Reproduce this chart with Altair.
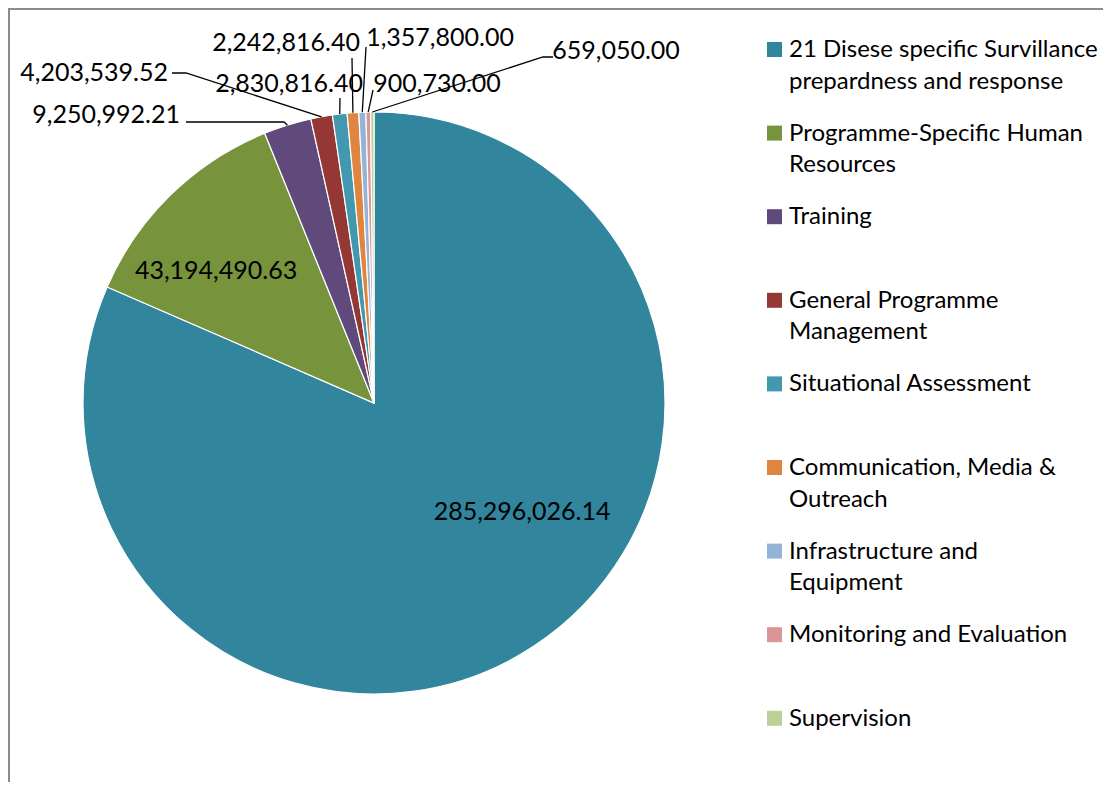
import math
import altair as alt
import pandas as pd

# ---------------- data ----------------
categories = [
    "21 Disese specific Survillance prepardness and response",
    "Programme-Specific Human Resources",
    " Training",
    "General Programme Management",
    "Situational Assessment",
    "Communication, Media & Outreach",
    "Infrastructure and Equipment",
    "Monitoring and Evaluation",
    "Supervision",
]
legend_lines = [
    ["21 Disese specific Survillance", "prepardness and response"],
    ["Programme-Specific Human", "Resources"],
    ["\u2005Training"],
    ["General Programme", "Management"],
    ["Situational Assessment"],
    ["Communication, Media &", "Outreach"],
    ["Infrastructure and", "Equipment"],
    ["Monitoring and Evaluation"],
    ["Supervision"],
]
values = [285296026.14, 43194490.63, 9250992.21, 4203539.52, 2830816.40,
          2242816.40, 1357800.00, 900730.00, 659050.00]
colors = ["#31859C", "#77933C", "#604A7B", "#953735", "#4198AF",
          "#E0853F", "#95B3D7", "#D99694", "#BBD195"]

# ---------------- layout (page pixel coordinates) ----------------
W, H = 1095, 774
OX, OY = 8, 8
CX, CY, R = 374, 403, 291
FONT = "Lato"
FS_LAB = 25
FS_LEG = 24
# label anchor (x, y, align) and leader-line start points
label_layout = [
    (522, 512, "center", []),
    (216, 271, "center", []),
    (180, 115, "right", [(186, 122), (284, 122)]),
    (168, 73, "right", [(172, 73), (186, 73)]),
    (289, 84, "center", [(340, 98)]),
    (286, 43, "center", [(352, 58)]),
    (440, 38, "center", [(366, 47)]),
    (437, 84, "center", [(373, 90)]),
    (616, 51, "center", [(553, 57), (543, 57)]),
]
LEG_SW_X, LEG_TX_X, LEG_Y0, LEG_STEP, LEG_LH = 774.5, 789, 50, 83.6, 31.5

xs = alt.Scale(domain=[OX, OX + W], range=[0, W])
ys = alt.Scale(domain=[OY, OY + H], range=[0, H])

# ---------------- pie ----------------
pie_df = pd.DataFrame({"cat": categories, "value": values, "idx": list(range(len(values)))})
arc = alt.Chart(pie_df).mark_arc(outerRadius=R, stroke="white", strokeWidth=1.2).encode(
    theta=alt.Theta("value:Q", stack=True),
    color=alt.Color("cat:N", scale=alt.Scale(domain=categories, range=colors), legend=None),
    order=alt.Order("idx:Q"),
    x=alt.value(CX - OX),
    y=alt.value(CY - OY),
)

# slice edge midpoints (from the data)
total = sum(values)
cum = 0.0
edge_pts = []
for v in values:
    mid = (cum + v / 2) / total * 2 * math.pi
    cum += v
    edge_pts.append((CX + R * math.sin(mid), CY - R * math.cos(mid)))

# labels
lab_rows = []
line_rows = []
for i, v in enumerate(values):
    lx, ly, al, pts = label_layout[i]
    lab_rows.append({"x": lx, "y": ly, "t": f"{v:,.2f}", "al": al})
    if pts:
        allp = pts + [edge_pts[i]]
        for k, (px, py) in enumerate(allp):
            line_rows.append({"lid": i, "k": k, "x": px, "y": py})
lab_df = pd.DataFrame(lab_rows)
line_df = pd.DataFrame(line_rows)

leaders = alt.Chart(line_df).mark_line(color="black", strokeWidth=1.3).encode(
    x=alt.X("x:Q", scale=xs, axis=None),
    y=alt.Y("y:Q", scale=ys, axis=None),
    detail="lid:N",
    order="k:Q",
)

def text_layer(df, align, fs):
    return alt.Chart(df).mark_text(
        align=align, baseline="middle", font=FONT, fontSize=fs, color="black"
    ).encode(
        x=alt.X("x:Q", scale=xs, axis=None),
        y=alt.Y("y:Q", scale=ys, axis=None),
        text="t:N",
    )

lab_center = text_layer(lab_df[lab_df.al == "center"], "center", FS_LAB)
lab_right = text_layer(lab_df[lab_df.al == "right"], "right", FS_LAB)

# ---------------- legend ----------------
sw_rows, lt_rows = [], []
for i, cat in enumerate(categories):
    y0 = LEG_Y0 + i * LEG_STEP
    sw_rows.append({"x": LEG_SW_X, "y": y0 - 0.5, "cat": cat})
    for j, line in enumerate(legend_lines[i]):
        lt_rows.append({"x": LEG_TX_X, "y": y0 + j * LEG_LH, "t": line})
sw_df = pd.DataFrame(sw_rows)
lt_df = pd.DataFrame(lt_rows)

swatches = alt.Chart(sw_df).mark_square(size=225, opacity=1).encode(
    x=alt.X("x:Q", scale=xs, axis=None),
    y=alt.Y("y:Q", scale=ys, axis=None),
    color=alt.Color("cat:N", scale=alt.Scale(domain=categories, range=colors), legend=None),
)
leg_text = text_layer(lt_df, "left", FS_LEG)

# ---------------- frame ----------------
one = pd.DataFrame({"a": [0]})
frame_left = alt.Chart(one).mark_rule(color="#8C8C8C", strokeWidth=2).encode(
    x=alt.value(1), y=alt.value(0), y2=alt.value(H)
)
frame_top = alt.Chart(one).mark_rule(color="#8C8C8C", strokeWidth=2).encode(
    x=alt.value(0), x2=alt.value(W), y=alt.value(1)
)

chart = alt.layer(
    frame_left, frame_top, arc, leaders, lab_center, lab_right, swatches, leg_text
).properties(
    width=W, height=H, padding=0, autosize=alt.AutoSizeParams(type="none")
).configure_view(stroke=None).configure(background="white")

chart.save("out.html", embed_options={"renderer": "svg", "actions": False})
